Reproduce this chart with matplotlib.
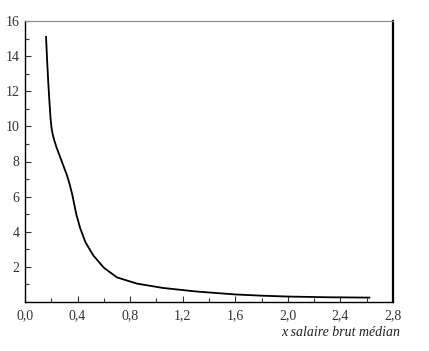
import matplotlib
matplotlib.use("Agg")
import matplotlib.pyplot as plt
from matplotlib.ticker import MultipleLocator, FuncFormatter

# courbe
x_salaire = [0.16, 0.168, 0.177, 0.186, 0.194, 0.202, 0.212, 0.225, 0.24, 0.27,
             0.30, 0.32, 0.34, 0.36, 0.39, 0.42, 0.46, 0.52, 0.60, 0.70,
             0.85, 1.05, 1.30, 1.60, 1.80, 2.00, 2.30, 2.62]
y_valeur = [15.1, 13.8, 12.5, 11.4, 10.5, 9.9, 9.5, 9.15, 8.8, 8.2,
            7.6, 7.2, 6.7, 6.1, 5.0, 4.2, 3.4, 2.65, 1.95, 1.4,
            1.05, 0.8, 0.6, 0.43, 0.36, 0.31, 0.27, 0.25]

x_ticks = [0.0, 0.4, 0.8, 1.2, 1.6, 2.0, 2.4, 2.8]
y_ticks = [2, 4, 6, 8, 10, 12, 14, 16]

plt.rcParams['font.family'] = ['Liberation Serif', 'DejaVu Serif']

fig = plt.figure(figsize=(4.29, 3.51), dpi=100)
ax = fig.add_axes([25 / 429, 49 / 351, 368 / 429, 281 / 351])

ax.plot(x_salaire, y_valeur, color='black', linewidth=1.3)

ax.set_xlim(0.0, 2.8)
ax.set_ylim(0, 16)
ax.set_xticks(x_ticks)
ax.set_yticks(y_ticks)
ax.xaxis.set_minor_locator(MultipleLocator(0.2))
ax.yaxis.set_minor_locator(MultipleLocator(1))
ax.xaxis.set_major_formatter(FuncFormatter(lambda v, p: f"{v:.1f}".replace('.', ',')))
ax.tick_params(which='both', direction='in', labelsize=10, color='#333333',
               width=0.8, pad=5, labelcolor='#333333')
ax.tick_params(which='major', length=4)
ax.tick_params(which='minor', length=3)
ax.tick_params(axis='y', pad=4)

ax.spines['top'].set_color('#888888')
ax.spines['top'].set_linewidth(0.8)
ax.spines['right'].set_linewidth(1.6)
ax.spines['left'].set_linewidth(1.0)
ax.spines['bottom'].set_linewidth(1.0)

fig.text(400 / 429, 1 - 333 / 351, 'x salaire brut médian', ha='right', va='center',
         fontsize=10, style='italic', color='#222222')

plt.savefig('out.png', dpi=100)
